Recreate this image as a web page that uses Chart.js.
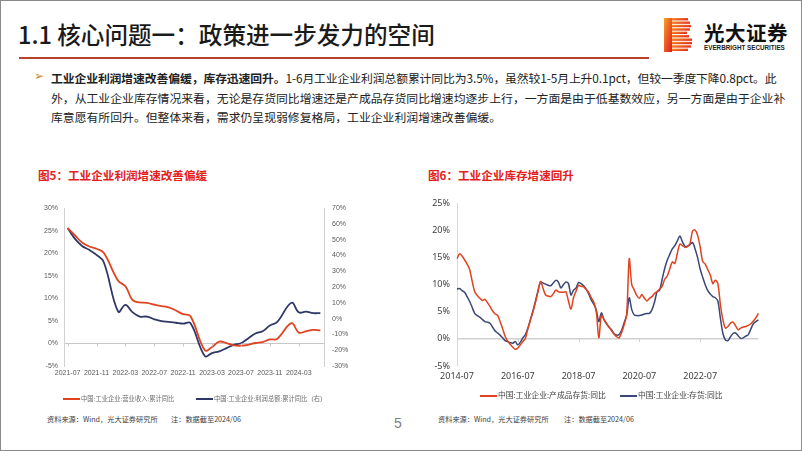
<!DOCTYPE html>
<html>
<head>
<meta charset="utf-8">
<script src="https://cdn.jsdelivr.net/npm/chart.js@4.4.1/dist/chart.umd.min.js"></script>
<style>
  body { margin: 0; background: #fff; font-family: "Noto Sans CJK SC", sans-serif; }
  #page { position: relative; width: 802px; height: 451px; box-sizing: border-box; border: 1px solid #8a8a8a; overflow: hidden; }
  .abs { position: absolute; white-space: nowrap; }
  #title { left: 17px; top: 16px; font-size: 23.6px; font-weight: 500; color: #1a1a1a; }
  #rule { left: 18px; top: 56px; width: 630px; height: 2px; background: #b9422c; }
  .line { left: 50px; font-size: 11.85px; color: #222; line-height: 19px; }
  #mark { left: 33px; top: 68px; font-size: 12px; color: #d98a2b; font-family: "DejaVu Sans"; }
  .ctitle { font-size: 11.6px; font-weight: bold; color: #e3211b; }
  .leg { font-size: 6.3px; color: #6b6b6b; }
  .leg2 { font-size: 7.8px; color: #404040; }
  .src { font-size: 7.2px; color: #404040; }
  .swatch { position: absolute; height: 2px; }
</style>
</head>
<body>
<div id="page">
  <div id="title" class="abs">1.1 核心问题一：政策进一步发力的空间</div>
  <div id="rule" class="abs"></div>

  <svg class="abs" style="left:663px;top:17px" width="28" height="34" viewBox="0 0 28 34">
    <defs>
      <linearGradient id="lg" x1="0" y1="0" x2="1" y2="1">
        <stop offset="0" stop-color="#f5a623"/>
        <stop offset="0.5" stop-color="#ee5a24"/>
        <stop offset="1" stop-color="#d81e1e"/>
      </linearGradient>
    </defs>
    <rect x="0" y="0" width="8" height="34" fill="url(#lg)"/>
    <g fill="url(#lg)">
      <rect x="8" y="0" width="16" height="2.4"/>
      <rect x="8" y="3.4" width="18" height="2.4"/>
      <rect x="8" y="6.8" width="19" height="2.4"/>
      <rect x="8" y="10.2" width="18" height="2.4"/>
      <rect x="8" y="13.6" width="15" height="2.4"/>
      <rect x="8" y="17" width="17" height="2.4"/>
      <rect x="8" y="20.4" width="20" height="2.4"/>
      <rect x="8" y="23.8" width="20" height="2.4"/>
      <rect x="8" y="27.2" width="19" height="2.4"/>
      <rect x="8" y="30.6" width="16" height="2.4"/>
    </g>
  </svg>
  <div class="abs" style="left:703px;top:16px;font-size:20.5px;font-weight:bold;color:#111;letter-spacing:0.5px">光大证券</div>
  <div class="abs" style="left:703px;top:43px;font-size:6.3px;font-weight:bold;color:#222;font-family:'Liberation Sans'">EVERBRIGHT SECURITIES</div>

  <div id="mark" class="abs">&#10146;</div>
  <div class="abs line" style="top:67px;letter-spacing:-0.12px"><b>工业企业利润增速改善偏缓，库存迅速回升。</b>1-6月工业企业利润总额累计同比为3.5%，虽然较1-5月上升0.1pct，但较一季度下降0.8pct。此</div>
  <div class="abs line" style="top:87px">外，从工业企业库存情况来看，无论是存货同比增速还是产成品存货同比增速均逐步上行，一方面是由于低基数效应，另一方面是由于企业补</div>
  <div class="abs line" style="top:106px">库意愿有所回升。但整体来看，需求仍呈现弱修复格局，工业企业利润增速改善偏缓。</div>

  <div class="abs ctitle" style="left:37px;top:166px">图5：工业企业利润增速改善偏缓</div>
  <div class="abs ctitle" style="left:427px;top:166px">图6：工业企业库存增速回升</div>

  <canvas id="c1" class="abs" style="left:20px;top:195px" width="330" height="190"></canvas>
  <canvas id="c2" class="abs" style="left:410px;top:190px" width="360" height="200"></canvas>

  <div class="swatch" style="left:62px;top:397px;width:17px;background:#e0431f"></div>
  <div class="abs leg" style="left:80px;top:393px">中国:工业企业:营业收入:累计同比</div>
  <div class="swatch" style="left:195px;top:397px;width:17px;background:#2e3766"></div>
  <div class="abs leg" style="left:213px;top:393px">中国:工业企业:利润总额:累计同比（右）</div>

  <div class="swatch" style="left:479px;top:394px;width:17px;background:#e0431f"></div>
  <div class="abs leg2" style="left:497px;top:388px">中国:工业企业:产成品存货:同比</div>
  <div class="swatch" style="left:619px;top:394px;width:17px;background:#3a4777"></div>
  <div class="abs leg2" style="left:637px;top:388px">中国:工业企业:存货:同比</div>

  <div class="abs src" style="left:46px;top:413px">资料来源：Wind，光大证券研究所</div>
  <div class="abs src" style="left:170px;top:413px">注：数据截至2024/06</div>
  <div class="abs src" style="left:437px;top:413px">资料来源：Wind，光大证券研究所</div>
  <div class="abs src" style="left:563px;top:413px">注：数据截至2024/06</div>

  <div class="abs" style="left:393px;top:414px;font-size:14px;color:#7f7f7f;font-family:'Liberation Sans'">5</div>
</div>

<script>
// 图5 数据 (2021-07 ~ 2024-06, 1月无数据)
const months1 = ["2021-07","2021-08","2021-09","2021-10","2021-11","2021-12",
  "2022-01","2022-02","2022-03","2022-04","2022-05","2022-06","2022-07","2022-08","2022-09","2022-10","2022-11","2022-12",
  "2023-01","2023-02","2023-03","2023-04","2023-05","2023-06","2023-07","2023-08","2023-09","2023-10","2023-11","2023-12",
  "2024-01","2024-02","2024-03","2024-04","2024-05","2024-06"];
const revenue = [25.6, 24.0, 22.4, 21.5, 21.0, 20.1,
  null, 13.9, 12.7, 9.6, 9.1, 9.0, 8.6, 8.3, 8.0, 7.3, 6.5, 6.1,
  null, -1.5, -0.8, 0.4, 0.1, -0.4, -0.5, -0.3, 0.1, 0.3, 0.9, 1.0,
  null, 4.5, 2.4, 2.7, 3.0, 2.9];
const profit = [57.5, 50.7, 46.1, 43.6, 40.4, 35.9,
  null, 4.4, 8.7, 4.0, 1.3, 1.3, -0.4, -1.6, -2.0, -2.6, -3.2, -2.8,
  null, -23.7, -21.8, -20.7, -18.7, -16.6, -15.6, -12.5, -9.4, -8.0, -4.3, -2.2,
  null, 10.1, 4.0, 4.4, 3.5, 3.5];

// 图6 数据 (2014-07 ~ 2024-06)
const months2 = [];
for (let y = 2014; y <= 2024; y++) {
  for (let m = 1; m <= 12; m++) {
    if ((y === 2014 && m < 7) || (y === 2024 && m > 6)) continue;
    months2.push(y + "-" + (m < 10 ? "0" + m : m));
  }
}
const finishedGoods = [14.8, 15.7, 15.3, 14.6, 13.8, 12.8, 10.6, 8.7, 8.0, 7.5, 7.1, 7.3,
  6.7, 6.0, 5.2, 4.6, 4.4, 3.2, 1.9, 0.5, -0.4, -1.0, -1.5, -1.9,
  -1.7, -1.1, -0.5, 0.1, 1.9, 3.5, 5.0, 6.8, 8.8, 10.6, 9.3, 8.1,
  7.9, 7.8, 8.3, 9.0, 8.7, 8.6, 8.6, 8.7, 7.0, 5.5, 7.6, 8.8,
  9.9, 9.7, 9.6, 9.1, 8.6, 7.6, 6.8, 5.0, 0.2, 4.3, 3.6, 2.9,
  2.2, 1.5, 0.9, 0.4, 0.2, 1.2, 2.6, 4.6, 14.8, 10.0, 9.0, 8.0,
  7.5, 8.2, 7.5, 7.0, 7.5, 7.8, 8.4, 8.7, 9.2, 9.7, 11.0, 11.6,
  12.9, 14.2, 13.9, 15.8, 17.5, 17.2, 16.9, 17.0, 17.6, 19.9, 20.1, 19.1,
  17.0, 14.3, 13.8, 12.8, 11.8, 10.2, 10.8, 10.2, 6.3, 3.5, 2.0, 2.3,
  2.9, 3.1, 2.4, 1.7, 2.0, 2.2, 2.3, 2.5, 2.8, 3.3, 3.9, 4.7];
const inventory = [9.2, 9.3, 8.9, 8.6, 7.8, 6.9, 5.8, 4.7, 4.3, 4.0, 3.6, 3.2,
  3.1, 2.9, 2.2, 1.5, 1.1, 0.7, 0.2, -0.3, -0.5, -0.7, -0.8, -0.5,
  -1.1, -0.6, 0.2, 0.8, 2.0, 3.6, 5.2, 7.0, 8.9, 10.5, 10.3, 10.1,
  9.9, 9.8, 10.3, 10.8, 10.5, 9.4, 10.0, 10.5, 10.2, 8.1, 9.0, 9.4,
  10.4, 10.2, 9.8, 9.2, 8.3, 7.2, 6.4, 5.3, 3.2, 4.8, 3.6, 2.8,
  2.2, 1.7, 1.0, 0.7, 0.8, 1.6, 3.0, 4.4, 7.6, 5.4, 4.4, 4.3,
  4.3, 4.4, 4.6, 4.7, 4.7, 5.4, 6.8, 8.7, 9.0, 11.0, 13.0, 14.5,
  15.6, 16.6, 17.2, 18.1, 19.0, 17.9, 17.1, 17.1, 17.4, 17.8, 16.6, 15.0,
  12.9, 11.4, 10.0, 8.9, 8.3, 7.8, 7.6, 7.0, 3.8, 1.0, -0.2, -0.3,
  0.4, 1.0, 1.1, 0.6, 0.1, 0.2, 0.5, 0.8, 1.8, 2.8, 3.2, 3.5];

const zeroLine = (col) => (ctx) => ctx.tick && ctx.tick.value === 0 ? col : "rgba(0,0,0,0)";

// 在0%线上画小刻度
const zeroTicks = {
  id: "zeroTicks",
  afterDatasetsDraw(chart, args, opts) {
    const x = chart.scales.x, y = chart.scales.y;
    const y0 = y.getPixelForValue(0);
    const c = chart.ctx;
    c.save();
    c.strokeStyle = opts.color || "#c8c8c8";
    c.lineWidth = 1;
    x.ticks.forEach((t, i) => {
      if (i % opts.every !== 0) return;
      const px = Math.round(x.getPixelForTick(i)) + 0.5;
      c.beginPath();
      c.moveTo(px, y0);
      c.lineTo(px, y0 + 3);
      c.stroke();
    });
    c.restore();
  }
};

new Chart(document.getElementById("c1"), {
  type: "line",
  data: {
    labels: months1,
    datasets: [
      { label: "中国:工业企业:营业收入:累计同比", data: revenue, yAxisID: "y",
        borderColor: "#e0431f", borderWidth: 1.8, pointRadius: 0, tension: 0.4, spanGaps: true },
      { label: "中国:工业企业:利润总额:累计同比（右）", data: profit, yAxisID: "y1",
        borderColor: "#2e3766", borderWidth: 1.8, pointRadius: 0, tension: 0.4, spanGaps: true }
    ]
  },
  plugins: [zeroTicks],
  options: {
    responsive: false,
    animation: false,
    devicePixelRatio: 1,
    layout: { padding: { top: 8, left: 0, right: 0, bottom: 0 } },
    plugins: { legend: { display: false }, tooltip: { enabled: false }, zeroTicks: { every: 4, color: "#c8c8c8" } },
    scales: {
      x: {
        offset: true,
        grid: { display: false, drawTicks: false },
        border: { display: false },
        ticks: {
          autoSkip: false, maxRotation: 0, padding: 3,
          color: "#595959", font: { size: 7, family: "Liberation Sans" },
          callback: function (v, i) { return i % 4 === 0 ? this.getLabelForValue(v) : ""; }
        },
        afterFit: (s) => { s.height = 20; }
      },
      y: {
        position: "left", min: -5, max: 30,
        grid: { color: zeroLine("#c8c8c8"), drawTicks: false, lineWidth: 1 },
        border: { display: true, color: "#d0d0d0" },
        ticks: { stepSize: 5, padding: 6, color: "#595959", font: { size: 7, family: "Liberation Sans" },
          callback: (v) => v + "%" },
        afterFit: (s) => { s.width = 43; }
      },
      y1: {
        position: "right", min: -30, max: 70,
        grid: { display: false, drawTicks: false },
        border: { display: true, color: "#d0d0d0" },
        ticks: { stepSize: 10, padding: 8, color: "#595959", font: { size: 7, family: "Liberation Sans" },
          callback: (v) => v + "%" },
        afterFit: (s) => { s.width = 27; }
      }
    }
  }
});

new Chart(document.getElementById("c2"), {
  type: "line",
  data: {
    labels: months2,
    datasets: [
      { label: "中国:工业企业:产成品存货:同比", data: finishedGoods,
        borderColor: "#e0431f", borderWidth: 1.5, pointRadius: 0, tension: 0.3 },
      { label: "中国:工业企业:存货:同比", data: inventory,
        borderColor: "#3a4777", borderWidth: 1.5, pointRadius: 0, tension: 0.3 }
    ]
  },
  plugins: [zeroTicks],
  options: {
    responsive: false,
    animation: false,
    devicePixelRatio: 1,
    layout: { padding: { top: 10.7, left: 0, right: 12.6, bottom: 0 } },
    plugins: { legend: { display: false }, tooltip: { enabled: false }, zeroTicks: { every: 24, color: "#d0d0d0" } },
    scales: {
      x: {
        grid: { display: false, drawTicks: false },
        border: { display: false },
        ticks: {
          autoSkip: false, maxRotation: 0, padding: 5,
          color: "#404040", font: { size: 9, family: "Noto Sans" },
          callback: function (v, i) { return i % 24 === 0 ? this.getLabelForValue(v) : ""; }
        },
        afterFit: (s) => { s.height = 25; }
      },
      y: {
        min: -5, max: 25,
        grid: { color: zeroLine("#d0d0d0"), drawTicks: false, lineWidth: 1.5 },
        border: { display: true, color: "#d9d9d9" },
        ticks: { stepSize: 5, padding: 7, color: "#404040", font: { size: 9, family: "Noto Sans" },
          callback: (v) => v + "%" },
        afterFit: (s) => { s.width = 46; }
      }
    }
  }
});
</script>
</body>
</html>
